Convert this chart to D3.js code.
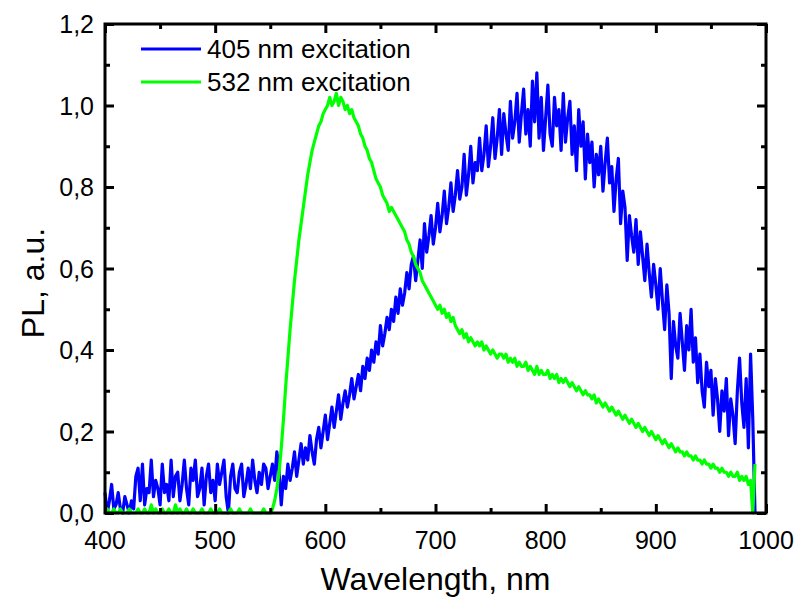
<!DOCTYPE html>
<html>
<head>
<meta charset="utf-8">
<script src="https://cdn.jsdelivr.net/npm/d3@7"></script>
<style>
  html, body { margin: 0; padding: 0; background: #fff; }
  svg { display: block; font-family: "Liberation Sans", Arial, sans-serif; }
</style>
</head>
<body>
<svg id="chart" width="800" height="601"></svg>
<script>
// Sampling grid of the spectra (nm), 2 nm step
const wavelengths = d3.range(400, 991, 2);

// PL spectrum under 405 nm excitation (normalised)
const pl405 = [
  0.05, 0.00, 0.03, 0.07, 0.01, 0.02, 0.05, 0.01, 0.00, 0.04,
  0.02, 0.00, 0.03, 0.01, 0.09, 0.11, 0.03, 0.12, 0.02, 0.06,
  0.05, 0.13, 0.04, 0.08, 0.06, 0.02, 0.12, 0.05, 0.07, 0.03,
  0.13, 0.04, 0.09, 0.10, 0.03, 0.07, 0.13, 0.06, 0.02, 0.11,
  0.08, 0.13, 0.04, 0.06, 0.11, 0.02, 0.09, 0.12, 0.05, 0.08,
  0.03, 0.12, 0.07, 0.10, 0.13, 0.04, 0.00, 0.09, 0.12, 0.06,
  0.05, 0.10, 0.12, 0.04, 0.07, 0.11, 0.06, 0.13, 0.08, 0.05,
  0.10, 0.07, 0.12, 0.11, 0.06, 0.09, 0.12, 0.08, 0.15, 0.10,
  0.02, 0.09, 0.06, 0.12, 0.08, 0.11, 0.15, 0.09, 0.13, 0.17,
  0.12, 0.16, 0.13, 0.19, 0.15, 0.12, 0.18, 0.21, 0.16, 0.20,
  0.24, 0.18, 0.22, 0.26, 0.21, 0.25, 0.29, 0.23, 0.27, 0.30,
  0.26, 0.29, 0.33, 0.28, 0.31, 0.34, 0.30, 0.36, 0.33, 0.38,
  0.35, 0.40, 0.37, 0.42, 0.39, 0.46, 0.41, 0.44, 0.48, 0.45,
  0.50, 0.47, 0.53, 0.49, 0.55, 0.51, 0.54, 0.59, 0.55, 0.61,
  0.63, 0.57, 0.62, 0.67, 0.60, 0.71, 0.64, 0.68, 0.73, 0.66,
  0.70, 0.76, 0.69, 0.73, 0.79, 0.71, 0.75, 0.81, 0.74, 0.78,
  0.84, 0.77, 0.80, 0.88, 0.78, 0.83, 0.90, 0.81, 0.86, 0.84,
  0.92, 0.84, 0.88, 0.95, 0.85, 0.90, 0.97, 0.87, 0.92, 0.99,
  0.88, 0.98, 0.93, 0.89, 1.01, 0.92, 0.96, 1.03, 0.91, 0.98,
  1.04, 0.93, 0.99, 0.90, 1.06, 0.96, 1.08, 0.92, 1.02, 0.89,
  0.97, 1.05, 0.93, 0.90, 1.02, 0.95, 0.99, 0.89, 1.03, 0.91,
  0.97, 1.01, 0.88, 0.95, 0.84, 0.99, 0.90, 0.96, 0.82, 0.93,
  0.86, 0.91, 0.80, 0.88, 0.83, 0.90, 0.79, 0.86, 0.92, 0.81,
  0.85, 0.74, 0.82, 0.87, 0.71, 0.79, 0.75, 0.62, 0.73, 0.68,
  0.64, 0.72, 0.61, 0.69, 0.63, 0.57, 0.66, 0.59, 0.53, 0.61,
  0.56, 0.50, 0.60, 0.52, 0.45, 0.56, 0.49, 0.33, 0.47, 0.41,
  0.38, 0.49, 0.42, 0.35, 0.46, 0.40, 0.50, 0.37, 0.43, 0.32,
  0.39, 0.30, 0.26, 0.37, 0.31, 0.35, 0.24, 0.33, 0.28, 0.20,
  0.30, 0.25, 0.33, 0.19, 0.28, 0.24, 0.17, 0.30, 0.38, 0.27,
  0.21, 0.33, 0.16, 0.39, 0.23,
  0.00
];

// PL spectrum under 532 nm excitation (normalised)
const pl532 = [
  0.00, 0.01, 0.00, 0.00, 0.01, 0.00, 0.00, 0.01, 0.00, 0.00,
  0.00, 0.01, 0.00, 0.00, 0.00, 0.01, 0.00, 0.00, 0.01, 0.00,
  0.00, 0.02, 0.00, 0.01, 0.00, 0.00, 0.01, 0.00, 0.00, 0.01,
  0.00, 0.00, 0.02, 0.00, 0.01, 0.00, 0.00, 0.01, 0.00, 0.00,
  0.01, 0.00, 0.00, 0.00, 0.01, 0.00, 0.00, 0.00, 0.01, 0.00,
  0.00, 0.00, 0.01, 0.00, 0.00, 0.00, 0.00, 0.01, 0.00, 0.00,
  0.00, 0.01, 0.00, 0.00, 0.00, 0.00, 0.01, 0.00, 0.00, 0.00,
  0.00, 0.00, 0.01, 0.00, 0.00, 0.00, 0.01, 0.03, 0.06, 0.10,
  0.16, 0.23, 0.31, 0.38, 0.45, 0.51, 0.57, 0.62, 0.67, 0.71,
  0.75, 0.79, 0.83, 0.86, 0.89, 0.91, 0.93, 0.95, 0.96, 0.98,
  0.99, 1.00, 1.02, 1.00, 1.01, 1.03, 1.00, 1.02, 1.01, 0.99,
  1.00, 0.98, 0.99, 0.97, 0.96, 0.95, 0.93, 0.92, 0.90, 0.89,
  0.87, 0.86, 0.84, 0.82, 0.81, 0.80, 0.78, 0.77, 0.76, 0.74,
  0.75, 0.74, 0.73, 0.72, 0.71, 0.70, 0.69, 0.67, 0.66, 0.64,
  0.63, 0.61, 0.60, 0.59, 0.57, 0.56, 0.55, 0.54, 0.53, 0.52,
  0.51, 0.50, 0.51, 0.49, 0.50, 0.48, 0.49, 0.47, 0.48, 0.46,
  0.45, 0.44, 0.45, 0.43, 0.44, 0.42, 0.43, 0.42, 0.41, 0.42,
  0.41, 0.42, 0.40, 0.41, 0.40, 0.39, 0.40, 0.39, 0.38, 0.39,
  0.39, 0.38, 0.39, 0.37, 0.38, 0.37, 0.38, 0.36, 0.37, 0.36,
  0.36, 0.37, 0.35, 0.36, 0.35, 0.34, 0.36, 0.34, 0.35, 0.34,
  0.34, 0.35, 0.33, 0.34, 0.33, 0.34, 0.32, 0.33, 0.32, 0.33,
  0.32, 0.31, 0.32, 0.31, 0.30, 0.31, 0.30, 0.29, 0.30, 0.29,
  0.29, 0.28, 0.29, 0.27, 0.28, 0.27, 0.26, 0.27, 0.26, 0.25,
  0.26, 0.25, 0.24, 0.25, 0.24, 0.23, 0.24, 0.23, 0.22, 0.23,
  0.22, 0.21, 0.22, 0.21, 0.20, 0.21, 0.20, 0.19, 0.20, 0.19,
  0.18, 0.19, 0.18, 0.17, 0.18, 0.17, 0.16, 0.17, 0.16, 0.15,
  0.16, 0.15, 0.15, 0.14, 0.15, 0.14, 0.14, 0.13, 0.14, 0.13,
  0.13, 0.12, 0.13, 0.12, 0.12, 0.11, 0.12, 0.11, 0.11, 0.10,
  0.11, 0.10, 0.10, 0.09, 0.10, 0.09, 0.09, 0.10, 0.08, 0.09,
  0.08, 0.09, 0.07, 0.08, 0.00,
  0.12
];

const seriesNames = ["405 nm excitation", "532 nm excitation"];
const seriesColors = ["#0000ff", "#00ff00"];
const xTicks = [400, 500, 600, 700, 800, 900, 1000];
const yTicks = [0, 0.2, 0.4, 0.6, 0.8, 1.0, 1.2];
const xTitle = "Wavelength, nm";
const yTitle = "PL, a.u.";

const svg = d3.select("#chart");
const plot = { left: 105, right: 766, top: 24, bottom: 513 };

const x = d3.scaleLinear().domain([400, 1000]).range([plot.left, plot.right]);
const y = d3.scaleLinear().domain([0, 1.2]).range([plot.bottom, plot.top]);

const fmtY = v => d3.format(".1f")(v).replace(".", ",");

// Spectra
const line = d3.line().x(d => x(d[0])).y(d => y(d[1]));
const series = [pl405, pl532];
series.forEach((vals, i) => {
  svg.append("path")
    .datum(wavelengths.map((w, k) => [w, vals[k]]))
    .attr("fill", "none")
    .attr("stroke", seriesColors[i])
    .attr("stroke-width", 3.2)
    .attr("stroke-linejoin", "round")
    .attr("d", line);
});

// Axes with inward ticks, mirrored on top and right
const xMinor = d3.range(450, 1000, 100);
const yMinor = [0.1, 0.3, 0.5, 0.7, 0.9, 1.1];
const styleAxis = g => {
  g.select(".domain").remove();
  g.selectAll("line").attr("stroke", "#000").attr("stroke-width", 3);
  g.selectAll("text").remove();
};

svg.append("g").attr("transform", `translate(0,${plot.bottom})`)
  .call(d3.axisBottom(x).tickValues(xTicks).tickSize(-9)).call(styleAxis);
svg.append("g").attr("transform", `translate(0,${plot.bottom})`)
  .call(d3.axisBottom(x).tickValues(xMinor).tickSize(-5)).call(styleAxis);
svg.append("g").attr("transform", `translate(0,${plot.top})`)
  .call(d3.axisTop(x).tickValues(xTicks).tickSize(-9)).call(styleAxis);
svg.append("g").attr("transform", `translate(0,${plot.top})`)
  .call(d3.axisTop(x).tickValues(xMinor).tickSize(-5)).call(styleAxis);
svg.append("g").attr("transform", `translate(${plot.left},0)`)
  .call(d3.axisLeft(y).tickValues(yTicks).tickSize(-9)).call(styleAxis);
svg.append("g").attr("transform", `translate(${plot.left},0)`)
  .call(d3.axisLeft(y).tickValues(yMinor).tickSize(-5)).call(styleAxis);
svg.append("g").attr("transform", `translate(${plot.right},0)`)
  .call(d3.axisRight(y).tickValues(yTicks).tickSize(-9)).call(styleAxis);
svg.append("g").attr("transform", `translate(${plot.right},0)`)
  .call(d3.axisRight(y).tickValues(yMinor).tickSize(-5)).call(styleAxis);

// Frame
svg.append("rect")
  .attr("x", plot.left).attr("y", plot.top)
  .attr("width", plot.right - plot.left).attr("height", plot.bottom - plot.top)
  .attr("fill", "none").attr("stroke", "#000").attr("stroke-width", 3);

// Tick labels
svg.append("g").selectAll("text").data(xTicks).join("text")
  .attr("x", d => x(d)).attr("y", plot.bottom + 36)
  .attr("text-anchor", "middle").attr("font-size", 25)
  .text(d => d);
svg.append("g").selectAll("text").data(yTicks).join("text")
  .attr("x", plot.left - 11).attr("y", d => y(d) + 9)
  .attr("text-anchor", "end").attr("font-size", 25)
  .text(fmtY);

// Axis titles
svg.append("text")
  .attr("x", (plot.left + plot.right) / 2).attr("y", 590)
  .attr("text-anchor", "middle").attr("font-size", 32)
  .text(xTitle);
svg.append("text")
  .attr("transform", "translate(44,283) rotate(-90)")
  .attr("text-anchor", "middle").attr("font-size", 32)
  .text(yTitle);

// Legend
const legend = svg.append("g");
seriesNames.forEach((name, i) => {
  const ly = 49 + i * 33;
  legend.append("line")
    .attr("x1", 141).attr("x2", 201).attr("y1", ly).attr("y2", ly)
    .attr("stroke", seriesColors[i]).attr("stroke-width", 3.2);
  legend.append("text")
    .attr("x", 207).attr("y", ly + 9)
    .attr("font-size", 26)
    .text(name);
});
</script>
</body>
</html>
